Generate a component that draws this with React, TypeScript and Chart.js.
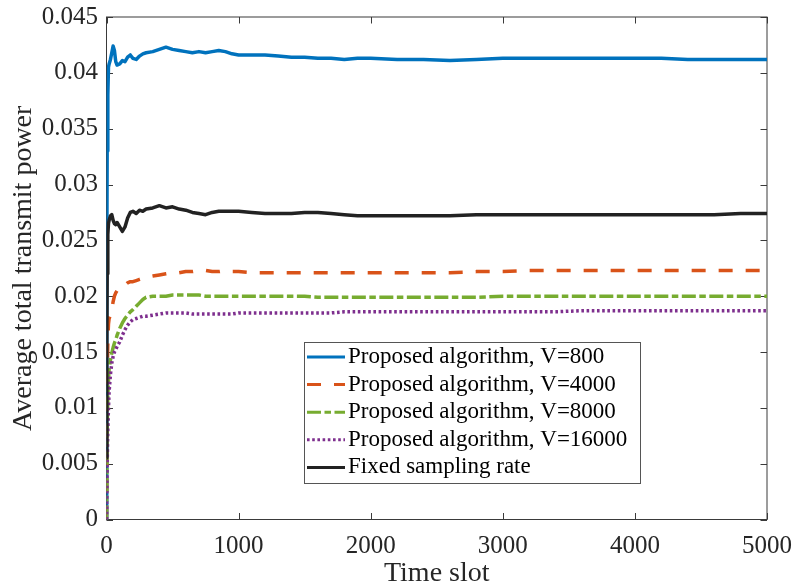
import React, { useEffect, useRef } from "react";
import { Chart, registerables } from "chart.js";

Chart.register(...registerables);

const timeSlots = [0, 2, 5, 10, 15, 20, 30, 40, 50, 60, 70, 80, 100, 120, 140, 160, 180, 200, 225, 250, 275, 300, 350, 400, 450, 500, 550, 600, 650, 700, 750, 800, 850, 900, 950, 1000, 1100, 1200, 1300, 1400, 1500, 1600, 1700, 1800, 1900, 2000, 2200, 2400, 2600, 2800, 3000, 3200, 3400, 3600, 3800, 4000, 4200, 4400, 4600, 4800, 5000];

const v800 = [0, 0.022, 0.033, 0.038, 0.0405, 0.0408, 0.0412, 0.0418, 0.0424, 0.042, 0.041, 0.0407, 0.0408, 0.0411, 0.041, 0.0414, 0.0416, 0.0413, 0.0412, 0.0415, 0.0417, 0.0418, 0.0419, 0.0421, 0.0423, 0.0421, 0.042, 0.0419, 0.0418, 0.0419, 0.0418, 0.0419, 0.042, 0.0419, 0.0417, 0.0416, 0.0416, 0.0416, 0.0415, 0.0414, 0.0414, 0.0413, 0.0413, 0.0412, 0.0413, 0.0413, 0.0412, 0.0412, 0.0411, 0.0412, 0.0413, 0.0413, 0.0413, 0.0413, 0.0413, 0.0413, 0.0413, 0.0412, 0.0412, 0.0412, 0.0412];

const v4000 = [0, 0.006, 0.012, 0.016, 0.0175, 0.018, 0.0183, 0.0188, 0.0195, 0.02, 0.0203, 0.0205, 0.0208, 0.021, 0.021, 0.0212, 0.0213, 0.0213, 0.0214, 0.0215, 0.0216, 0.0217, 0.0218, 0.0219, 0.022, 0.0221, 0.0221, 0.0222, 0.0222, 0.0223, 0.0223, 0.0222, 0.0222, 0.0223, 0.0222, 0.0222, 0.0221, 0.0221, 0.0221, 0.0221, 0.0221, 0.0221, 0.0221, 0.0221, 0.0221, 0.0221, 0.0221, 0.0221, 0.0221, 0.0222, 0.0222, 0.0223, 0.0223, 0.0223, 0.0223, 0.0223, 0.0223, 0.0223, 0.0223, 0.0223, 0.0223];

const v8000 = [0, 0.004, 0.008, 0.011, 0.0125, 0.0135, 0.0143, 0.0149, 0.0154, 0.0158, 0.0161, 0.0165, 0.0171, 0.0176, 0.018, 0.0183, 0.0186, 0.0188, 0.0191, 0.0194, 0.0197, 0.0199, 0.02, 0.02, 0.02, 0.0201, 0.0201, 0.0201, 0.0201, 0.0201, 0.02, 0.02, 0.02, 0.02, 0.02, 0.02, 0.02, 0.02, 0.02, 0.02, 0.02, 0.0199, 0.0199, 0.0199, 0.0199, 0.0199, 0.0199, 0.0199, 0.0199, 0.0199, 0.02, 0.02, 0.02, 0.02, 0.02, 0.02, 0.02, 0.02, 0.02, 0.02, 0.02];

const v16000 = [0, 0.002, 0.005, 0.008, 0.01, 0.0115, 0.013, 0.014, 0.0146, 0.015, 0.0152, 0.0155, 0.0159, 0.0165, 0.017, 0.0174, 0.0177, 0.0179, 0.018, 0.0181, 0.0182, 0.0182, 0.0183, 0.0184, 0.0185, 0.0185, 0.0185, 0.0185, 0.0184, 0.0184, 0.0184, 0.0184, 0.0184, 0.0184, 0.0184, 0.0185, 0.0185, 0.0185, 0.0185, 0.0185, 0.0185, 0.0185, 0.0185, 0.0186, 0.0186, 0.0186, 0.0186, 0.0186, 0.0186, 0.0186, 0.0186, 0.0186, 0.0186, 0.0187, 0.0187, 0.0187, 0.0187, 0.0187, 0.0187, 0.0187, 0.0187];

const vFixed = [0.0055, 0.015, 0.022, 0.0255, 0.0265, 0.0268, 0.0272, 0.0273, 0.0268, 0.0265, 0.0264, 0.0266, 0.0262, 0.0258, 0.0262, 0.027, 0.0275, 0.0276, 0.0274, 0.0277, 0.0276, 0.0278, 0.0279, 0.0281, 0.0279, 0.028, 0.0278, 0.0277, 0.0275, 0.0274, 0.0273, 0.0275, 0.0276, 0.0276, 0.0276, 0.0276, 0.0275, 0.0274, 0.0274, 0.0274, 0.0275, 0.0275, 0.0274, 0.0273, 0.0272, 0.0272, 0.0272, 0.0272, 0.0272, 0.0273, 0.0273, 0.0273, 0.0273, 0.0273, 0.0273, 0.0273, 0.0273, 0.0273, 0.0273, 0.0274, 0.0274];

const seriesLabels = [
  "Proposed algorithm, V=800",
  "Proposed algorithm, V=4000",
  "Proposed algorithm, V=8000",
  "Proposed algorithm, V=16000",
  "Fixed sampling rate",
];

const xTickValues = [0, 1000, 2000, 3000, 4000, 5000];
const xTickLabels = ["0", "1000", "2000", "3000", "4000", "5000"];
const yTickValues = [0, 0.005, 0.01, 0.015, 0.02, 0.025, 0.03, 0.035, 0.04, 0.045];
const yTickLabels = ["0", "0.005", "0.01", "0.015", "0.02", "0.025", "0.03", "0.035", "0.04", "0.045"];

const xTitle = "Time slot";
const yTitle = "Average total transmit power";

const FONT = "'Liberation Serif', 'Times New Roman', serif";
const AXIS_COLOR = "#3a3a3a";
const TEXT_COLOR = "#262626";

const colors = ["#0072BD", "#D95319", "#77AC30", "#7E2F8E", "#222222"];
const dashes: number[][] = [[], [14, 13], [14, 3.5, 6.5, 3.5], [2.6, 2.6], []];

const framePlugin = {
  id: "frame",
  beforeDatasetsDraw(chart: any) {
    const { ctx, chartArea, scales } = chart;
    const { left, right, top, bottom } = chartArea;
    const tl = 6.5;
    ctx.save();
    ctx.strokeStyle = AXIS_COLOR;
    ctx.lineWidth = 1;
    ctx.strokeRect(left, top, right - left, bottom - top);
    ctx.beginPath();
    scales.x.ticks.forEach((t: any) => {
      const px = Math.round(scales.x.getPixelForValue(t.value)) + 0.5;
      ctx.moveTo(px, bottom);
      ctx.lineTo(px, bottom - tl);
      ctx.moveTo(px, top);
      ctx.lineTo(px, top + tl);
    });
    scales.y.ticks.forEach((t: any) => {
      const py = Math.round(scales.y.getPixelForValue(t.value)) + 0.5;
      ctx.moveTo(left, py);
      ctx.lineTo(left + tl, py);
      ctx.moveTo(right, py);
      ctx.lineTo(right - tl, py);
    });
    ctx.stroke();
    ctx.restore();
  },
};

const legendPlugin = {
  id: "innerLegend",
  afterDraw(chart: any) {
    const { ctx } = chart;
    const bx = 304.5, by = 342.5, bw = 336, bh = 141;
    ctx.save();
    ctx.fillStyle = "#ffffff";
    ctx.fillRect(bx, by, bw, bh);
    ctx.strokeStyle = "#555555";
    ctx.lineWidth = 1;
    ctx.strokeRect(bx, by, bw, bh);
    const rowH = 27.6;
    const y0 = 357;
    chart.data.datasets.forEach((ds: any, i: number) => {
      const y = y0 + i * rowH;
      ctx.beginPath();
      ctx.strokeStyle = ds.borderColor;
      ctx.lineWidth = 3;
      ctx.setLineDash(ds.borderDash || []);
      ctx.moveTo(307, y);
      ctx.lineTo(345, y);
      ctx.stroke();
      ctx.setLineDash([]);
      ctx.fillStyle = "#000000";
      ctx.font = `23px ${FONT}`;
      ctx.textBaseline = "middle";
      ctx.textAlign = "left";
      ctx.fillText(ds.label, 348, y);
    });
    ctx.restore();
  },
};

const seriesValues = [v800, v4000, v8000, v16000, vFixed];
const drawOrder = [4, 3, 2, 1, 0];

export default function App() {
  const ref = useRef<HTMLCanvasElement | null>(null);
  useEffect(() => {
    if (!ref.current) return;
    const datasets = seriesValues.map((vals, i) => ({
      label: seriesLabels[i],
      data: timeSlots.map((t, j) => ({ x: t, y: vals[j] })),
      borderColor: colors[i],
      backgroundColor: colors[i],
      borderWidth: 3.5,
      borderDash: dashes[i],
      borderCapStyle: "butt",
      borderJoinStyle: "round",
      pointRadius: 0,
      tension: 0,
      fill: false,
      order: drawOrder[i],
    }));
    const chart = new Chart(ref.current, {
      type: "line",
      data: { datasets } as any,
      options: {
        animation: false,
        responsive: false,
        devicePixelRatio: 1,
        layout: { padding: { left: 0, top: 17, right: 28, bottom: 0 } },
        plugins: { legend: { display: false }, tooltip: { enabled: false } },
        scales: {
          x: {
            type: "linear",
            min: 0,
            max: 5000,
            afterBuildTicks: (scale: any) => {
              scale.ticks = xTickValues.map((v) => ({ value: v }));
            },
            afterFit: (scale: any) => {
              scale.height = 68.5;
              scale.paddingLeft = 0;
              scale.paddingRight = 0;
            },
            grid: { display: false, drawTicks: false },
            border: { display: false },
            ticks: {
              padding: 12,
              color: TEXT_COLOR,
              font: { family: FONT, size: 25 },
              maxRotation: 0,
              callback: (_v: any, i: number) => xTickLabels[i],
            },
            title: {
              display: true,
              text: xTitle,
              color: TEXT_COLOR,
              font: { family: FONT, size: 28, lineHeight: 1 },
              padding: { top: 0, bottom: 0 },
            },
          },
          y: {
            type: "linear",
            min: 0,
            max: 0.045,
            afterBuildTicks: (scale: any) => {
              scale.ticks = yTickValues.map((v) => ({ value: v }));
            },
            afterFit: (scale: any) => {
              scale.width = 106.5;
              scale.paddingTop = 0;
              scale.paddingBottom = 0;
            },
            grid: { display: false, drawTicks: false },
            border: { display: false },
            ticks: {
              padding: 8.5,
              color: TEXT_COLOR,
              font: { family: FONT, size: 25 },
              callback: (_v: any, i: number) => yTickLabels[i],
            },
            title: {
              display: true,
              text: yTitle,
              color: TEXT_COLOR,
              font: { family: FONT, size: 28, lineHeight: 1 },
              padding: { top: 9.5, bottom: 0 },
            },
          },
        },
      } as any,
      plugins: [framePlugin, legendPlugin],
    });
    return () => chart.destroy();
  }, []);
  return (
    <div style={{ position: "absolute", left: 0, top: 0, width: 795, height: 588, background: "#fff" }}>
      <canvas ref={ref} width={795} height={588} style={{ display: "block" }} />
    </div>
  );
}
